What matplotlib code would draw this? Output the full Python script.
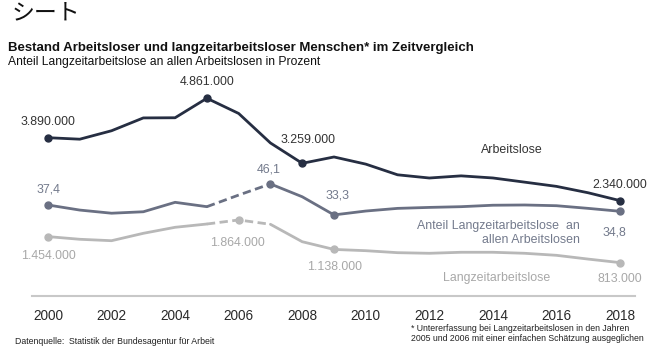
import matplotlib
matplotlib.use("Agg")
import matplotlib.pyplot as plt
import numpy as np

plt.rcParams['font.family'] = ['Liberation Sans', 'DejaVu Sans']

years = list(range(2000, 2019))
arbeitslose = [3.890, 3.853, 4.061, 4.377, 4.381, 4.861, 4.487, 3.760, 3.259, 3.415,
               3.239, 2.976, 2.897, 2.950, 2.898, 2.795, 2.691, 2.533, 2.340]  # Mio.
langzeit = [1.454, 1.388, 1.353, 1.535, 1.683, 1.764, 1.864, 1.757, 1.328, 1.138,
            1.107, 1.058, 1.043, 1.068, 1.068, 1.043, 0.993, 0.900, 0.813]  # Mio.
anteil = [37.4, 35.3, 34.0, 34.6, 38.5, 36.7, 41.5, 46.1, 40.8, 33.3,
          34.9, 36.0, 36.4, 36.7, 37.3, 37.4, 37.1, 36.0, 34.8]  # Prozent
xticks = list(range(2000, 2019, 2))

C_DARK = '#262e42'
C_MID = '#6a7083'
C_MIDTXT = '#737a8c'
C_LIGHT = '#b8b8b8'
C_LIGHTTXT = '#a8a8a8'
C_TXT = '#333333'

W, H = 670, 349
fig = plt.figure(figsize=(W / 100, H / 100), dpi=100)

def fx(px):
    return px / W

def fy(py):
    return 1 - py / H

left, right, top, bottom = 32, 635, 75, 296
ax = fig.add_axes([fx(left), fy(bottom), fx(right - left), fy(top) - fy(bottom)])
ax.set_xlim(1999.497, 2018.472)
ax.set_ylim(-0.009, 5.434)
ax2 = ax.twinx()
ax2.set_ylim(-0.2, 91.1)

for a in (ax, ax2):
    for s in ['top', 'right', 'left']:
        a.spines[s].set_visible(False)
    a.set_yticks([])
    a.patch.set_visible(False)
ax2.spines['bottom'].set_visible(False)
ax.spines['bottom'].set_color('#c8c8c8')
ax.spines['bottom'].set_linewidth(1.5)
ax.set_xticks(xticks)
ax.set_xticklabels([str(y) for y in xticks])
ax.tick_params(axis='x', length=0, pad=9, labelsize=9.8, labelcolor='#2a2a2a')

yrs = np.array(years)
def draw(a, vals, color, lw, dashed_span=None):
    vals = np.array(vals)
    if dashed_span is None:
        a.plot(yrs, vals, color=color, lw=lw, solid_capstyle='round', solid_joinstyle='round')
        return
    i0, i1 = dashed_span
    a.plot(yrs[:i0 + 1], vals[:i0 + 1], color=color, lw=lw, solid_capstyle='round', solid_joinstyle='round')
    a.plot(yrs[i0:i1 + 1], vals[i0:i1 + 1], color=color, lw=lw, ls=(0, (3, 1.6)))
    a.plot(yrs[i1:], vals[i1:], color=color, lw=lw, solid_capstyle='round', solid_joinstyle='round')

draw(ax, langzeit, C_LIGHT, 2.0, (5, 7))
draw(ax2, anteil, C_MID, 2.0, (5, 7))
draw(ax, arbeitslose, C_DARK, 2.0)

def mark(a, idx, vals, color):
    a.plot([years[i] for i in idx], [vals[i] for i in idx], 'o', color=color, ms=5, mec=color)

mark(ax, [0, 6, 9, 18], langzeit, C_LIGHT)
mark(ax2, [0, 7, 9, 18], anteil, C_MID)
mark(ax, [0, 5, 8, 18], arbeitslose, C_DARK)

def fmt_num(v):
    n = int(round(v * 1000)) * 1000
    return f"{n:,}".replace(',', '.')

def fmt_pct(v):
    return f"{v:.1f}".replace('.', ',')

def lab(a, i, vals, text, dx, dy, color, ha='center', size=8.9):
    a.annotate(text, (years[i], vals[i]), xytext=(dx, -dy), textcoords='offset pixels',
               ha=ha, va='center', color=color, fontsize=size)

# dark line labels
lab(ax, 0, arbeitslose, fmt_num(arbeitslose[0]), 0, -16, C_TXT)
lab(ax, 5, arbeitslose, fmt_num(arbeitslose[5]), 0, -16, C_TXT)
lab(ax, 8, arbeitslose, fmt_num(arbeitslose[8]), 6, -23, C_TXT)
lab(ax, 18, arbeitslose, fmt_num(arbeitslose[18]), 0, -16, C_TXT)
lab(ax, 14, arbeitslose, 'Arbeitslose', 19, -27.6, C_TXT)

# percentage labels
lab(ax2, 0, anteil, fmt_pct(anteil[0]), 0, -15, C_MIDTXT)
lab(ax2, 7, anteil, fmt_pct(anteil[7]), -2, -14, C_MIDTXT)
lab(ax2, 9, anteil, fmt_pct(anteil[9]), 4, -19, C_MIDTXT)
lab(ax2, 18, anteil, fmt_pct(anteil[18]), -6, 21, C_MIDTXT)
lab(ax2, 18, anteil, 'Anteil Langzeitarbeitslose  an\nallen Arbeitslosen', -40, 21.5, C_MIDTXT, ha='right')

# light line labels
lab(ax, 0, langzeit, fmt_num(langzeit[0]), 0, 19, C_LIGHTTXT)
lab(ax, 6, langzeit, fmt_num(langzeit[6]), -1, 23, C_LIGHTTXT)
lab(ax, 9, langzeit, fmt_num(langzeit[9]), 1, 18, C_LIGHTTXT)
lab(ax, 18, langzeit, fmt_num(langzeit[18]), 0, 16, C_LIGHTTXT)
lab(ax, 18, langzeit, 'Langzeitarbeitslose', -123, 15, C_LIGHTTXT)

# titles
fig.text(fx(12), fy(13), 'シート', fontsize=16.5, family=['Noto Sans CJK JP', 'DejaVu Sans'],
         ha='left', va='center', color='#111111')
fig.text(fx(8), fy(48), 'Bestand Arbeitsloser und langzeitarbeitsloser Menschen* im Zeitvergleich',
         fontsize=9.5, fontweight='bold', ha='left', va='center', color='#111111')
fig.text(fx(8), fy(62), 'Anteil Langzeitarbeitslose an allen Arbeitslosen in Prozent',
         fontsize=8.7, ha='left', va='center', color='#111111')

fig.text(fx(15), fy(342), 'Datenquelle:  Statistik der Bundesagentur für Arbeit',
         fontsize=6.3, ha='left', va='center', color='#222222')
fig.text(fx(411), fy(333.5), '* Untererfassung bei Langzeitarbeitslosen in den Jahren\n2005 und 2006 mit einer einfachen Schätzung ausgeglichen',
         fontsize=6.3, ha='left', va='center', color='#222222', linespacing=1.25)

fig.savefig('out.png', dpi=100)
